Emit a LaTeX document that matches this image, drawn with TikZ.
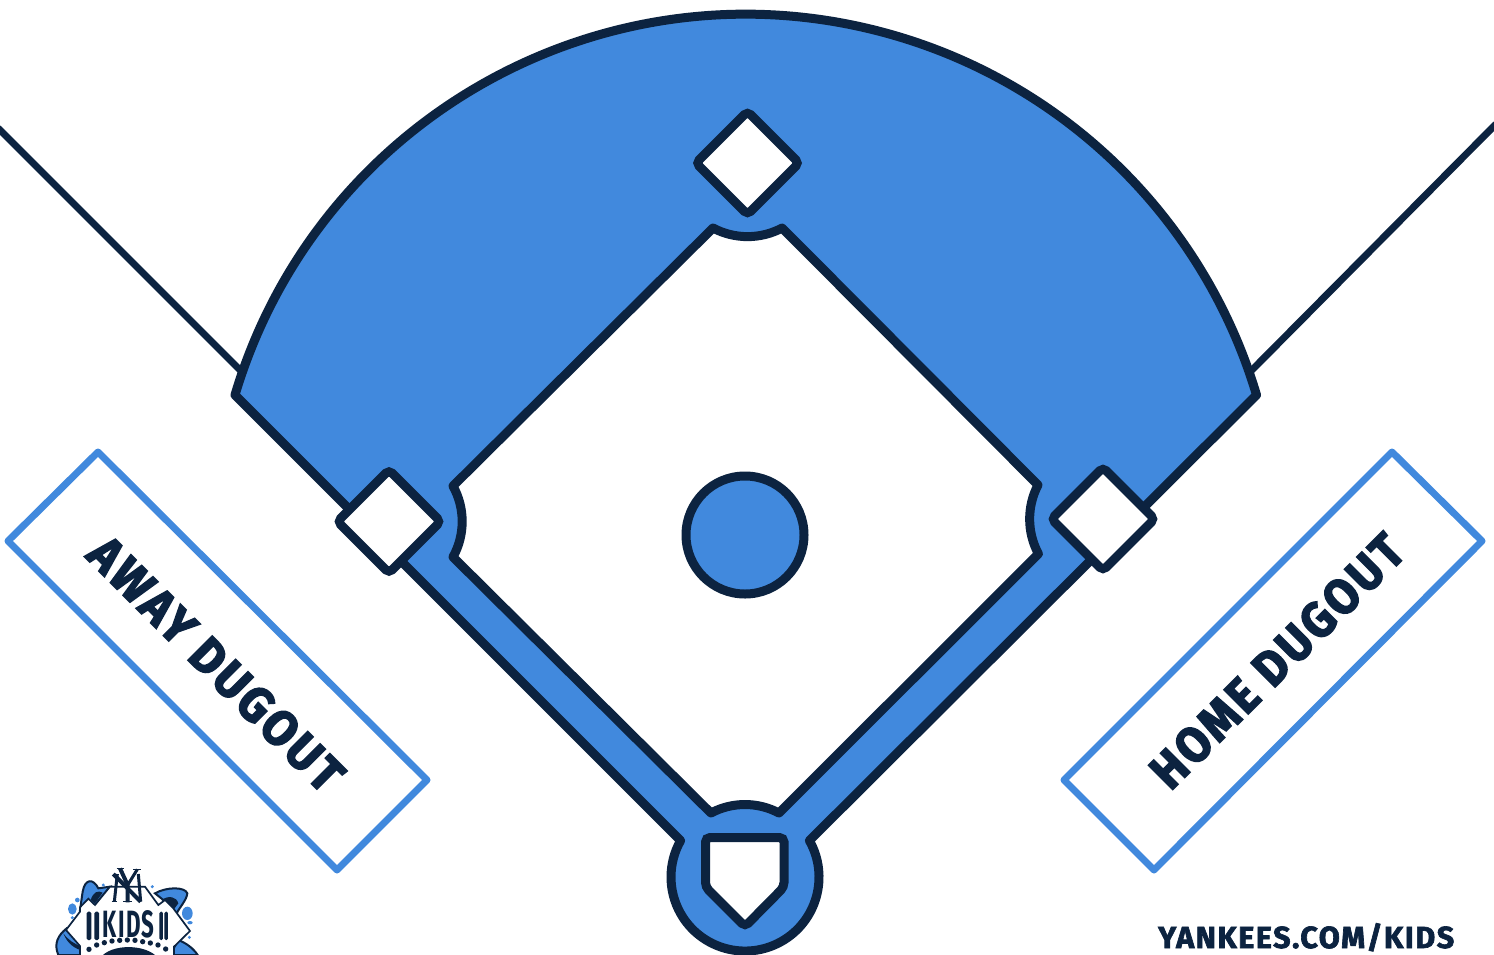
\documentclass[tikz,border=0pt]{standalone}
\usepackage{fontspec}
\usepackage{graphicx}
\setmainfont{Fira Sans}
\definecolor{navy}{HTML}{0C2340}
\definecolor{sky}{HTML}{4189DD}
\tikzset{
  field/.style={draw=navy,line width=9pt,line join=round},
  basebag/.style={draw=navy,fill=white,line width=9pt,rounded corners=4.5pt},
  foul/.style={draw=navy,line width=7pt},
  dugoutbox/.style={draw=sky,fill=white,line width=7pt,line join=round},
  dugoutlabel/.style={text=navy,inner sep=0pt,font=\bfseries\addfontfeature{LetterSpace=7,FakeBold=3.2}},
  urllabel/.style={text=navy,inner sep=0pt,font=\bfseries\addfontfeature{LetterSpace=5,FakeBold=2.2}},
  logodot/.style={fill=sky,draw=none},
  mono/.style={draw=navy,line width=3pt},
}
\begin{document}
\begin{tikzpicture}[x=1pt,y=-1pt]
\useasboundingbox (0,0) rectangle (1494,954);
\clip (0,0) rectangle (1494,954);
\fill[white] (0,0) rectangle (1494,954);
% foul lines
\coordinate (foulLa) at (-2,128);
\coordinate (foulLb) at (242,372);
\coordinate (foulRa) at (1496,124);
\coordinate (foulRb) at (1250,372);
\draw[foul] (foulLa) -- (foulLb);
\draw[foul] (foulRa) -- (foulRb);
% outfield and baselines
\draw[field,fill=sky] (235,395) arc[start angle=-163.4,end angle=-16.6,radius=533]
  -- (809.4,840.6) arc[start angle=-29.5,end angle=209.5,radius=74] -- cycle;
% infield
\draw[field,fill=white] (713,228) arc[start angle=118,end angle=62,radius=73.6]
  -- (1038,485) arc[start angle=207.6,end angle=151.7,radius=73.4]
  -- (779,813) arc[start angle=-62,end angle=-118,radius=72.5]
  -- (453,557) arc[start angle=29,end angle=-29,radius=73.2] -- cycle;
% bases
\draw[basebag] (747.5,111.5) -- (799,163) -- (747.5,214.5) -- (696,163) -- cycle;
\draw[basebag] (389,470) -- (440.5,521.5) -- (389,573) -- (337.5,521.5) -- cycle;
\draw[basebag] (1103,467.5) -- (1154.5,519) -- (1103,570.5) -- (1051.5,519) -- cycle;
\draw[basebag] (705.5,837.5) -- (784,837.5) -- (784,887) -- (745,926.5) -- (705.5,887) -- cycle;
% mound
\draw[draw=navy,fill=sky,line width=9pt] (745,535) circle[radius=59];
% dugouts
\draw[dugoutbox] (98,452) -- (427,780) -- (337,870) -- (8,541) -- cycle;
\draw[dugoutbox] (1392,452) -- (1482,541) -- (1154,870) -- (1064,780) -- cycle;
\node[dugoutlabel,rotate=-45] (away) at (216,664) {\resizebox{337pt}{35pt}{AWAY DUGOUT}};
\node[dugoutlabel,rotate=45] (home) at (1277,661) {\resizebox{335pt}{35pt}{HOME DUGOUT}};
\node[urllabel,anchor=base west] (url) at (1158,948) {\resizebox{296pt}{!}{YANKEES.COM/KIDS}};
% logo
\begin{scope}[shift={(30,850)},x=0.33333pt,y=-0.33333pt]
  \filldraw[fill=sky,draw=navy,line width=2pt] (150,180) -- (158,125) .. controls (165,85) and (190,85) .. (205,115) -- (240,110) -- (195,165) -- cycle;
  \fill[navy] (182,150) .. controls (190,125) and (205,120) .. (218,128) -- (195,160) -- cycle;
  \filldraw[fill=sky,draw=navy,line width=2pt] (375,130) .. controls (410,110) and (465,110) .. (472,130) .. controls (470,150) and (450,170) .. (440,190) -- (400,150) -- cycle;
  \fill[navy] (395,150) .. controls (415,135) and (440,140) .. (445,160) -- (430,180) -- cycle;
  \filldraw[fill=sky,draw=navy,line width=2pt] (110,235) .. controls (85,255) and (70,280) .. (85,315) -- (160,315) -- (160,280) -- cycle;
  \fill[navy] (100,250) .. controls (115,270) and (130,280) .. (155,290) -- (150,300) .. controls (125,290) and (110,275) .. (100,250) -- cycle;
  \filldraw[fill=sky,draw=navy,line width=2pt] (445,270) .. controls (470,280) and (490,295) .. (503,315) -- (420,315) -- cycle;
  \filldraw[fill=white,draw=navy,line width=1.7pt] (150,172) -- (175,146) -- (195,165) -- (240,110) -- (345,110) -- (385,165) -- (405,150) -- (430,175) -- (480,243) -- (432,290) -- (432,320) -- (150,320) -- (150,288) -- (108,240) -- (150,185) -- cycle;
  \fill[logodot] (142,150) circle[radius=7];
  \fill[logodot] (127,177) ellipse[x radius=13,y radius=17];
  \fill[logodot] (127,203) circle[radius=5];
  \fill[logodot] (220,105) circle[radius=5];
  \fill[logodot] (367,110) circle[radius=5];
  \fill[logodot] (472,190) ellipse[x radius=16,y radius=20];
  \fill[logodot] (480,218) ellipse[x radius=8,y radius=5];
  \fill[logodot] (478,262) circle[radius=5];
  % NY monogram
  \draw[mono] (262,72) -- (253,155);
  \draw[mono] (325,72) -- (332,155);
  \draw[mono,line width=4pt] (250,72) -- (332,155);
  \draw[mono,line width=4pt] (270,55) -- (293,105) -- (293,157);
  \draw[mono] (322,58) -- (293,105);
  \draw[mono,line width=1.5pt] (280,155) -- (306,155);
  \draw[mono,line width=1.5pt] (245,155) -- (262,155);
  \draw[mono,line width=1.5pt] (260,55) -- (282,55);
  \draw[mono,line width=1.5pt] (310,58) -- (332,58);
  % bars
  \fill[navy,rounded corners=1.5pt] (170,185) rectangle (184,270);
  \fill[navy,rounded corners=1.5pt] (193,185) rectangle (207,270);
  \fill[navy,rounded corners=1.5pt] (388,185) rectangle (399,270);
  \fill[navy,rounded corners=1.5pt] (403,185) rectangle (414,270);
  \node[text=navy,inner sep=0pt,font=\bfseries\addfontfeature{LetterSpace=6}] (logoKids) at (296,224) {\resizebox{52pt}{27pt}{KIDS}};
  % arcade
  \foreach \px/\py in {177/298,200/285,223/278,246/273,269/271,292/270,315/271,338/275,361/279,384/285,407/297}
    \fill[navy] (\px,\py) circle[radius=8];
  \fill[navy] (210,325) .. controls (240,280) and (350,280) .. (385,325) -- cycle;
\end{scope}
\end{tikzpicture}
\end{document}
